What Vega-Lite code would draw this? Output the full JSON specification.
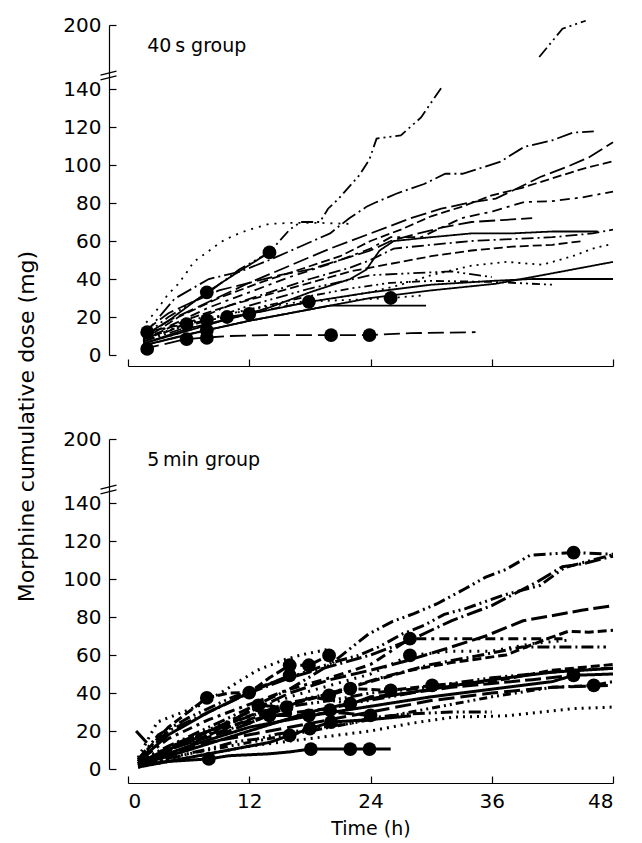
{
  "$schema": "https://vega.github.io/schema/vega-lite/v6.json",
  "background": "white",
  "padding": {"left": 15, "top": 15, "right": 0, "bottom": 0},
  "bounds": "flush",
  "spacing": 84,
  "title": {"text": "Morphine cumulative dose (mg)", "orient": "left", "anchor": "middle", "font": "DejaVu Sans", "fontSize": 22, "fontWeight": "normal", "color": "black", "offset": 24},
  "config": {
    "view": {"stroke": null},
    "axis": {"grid": false, "domainColor": "black", "tickColor": "black", "labelColor": "black", "titleColor": "black", "domainWidth": 1.2, "tickWidth": 1.2, "labelFont": "DejaVu Sans", "titleFont": "DejaVu Sans", "labelFontSize": 20, "titleFontSize": 19, "titleFontWeight": "normal", "tickSize": -7, "labelPadding": 15, "labelOverlap": false}
  },
  "datasets": {
    "lines": [
      {"g":"a","id":"a1","t":1.5,"v":10},{"g":"a","id":"a1","t":4,"v":20},{"g":"a","id":"a1","t":8,"v":33},{"g":"a","id":"a1","t":11,"v":45},{"g":"a","id":"a1","t":14,"v":54},{"g":"a","id":"a1","t":16,"v":66},{"g":"a","id":"a1","t":17.1,"v":70},{"g":"a","id":"a1","t":19,"v":70},{"g":"a","id":"a1","t":19.8,"v":77},{"g":"a","id":"a1","t":20.8,"v":82},{"g":"a","id":"a1","t":22.9,"v":94.6},{"g":"a","id":"a1","t":23.9,"v":103},{"g":"a","id":"a1","t":24.6,"v":113.9},{"g":"a","id":"a1","t":27,"v":115.6},{"g":"a","id":"a1","t":29,"v":125},{"g":"a","id":"a1","t":31,"v":141},
      {"g":"a","id":"a1x","t":40.7,"v":170},{"g":"a","id":"a1x","t":43,"v":196.5},{"g":"a","id":"a1x","t":45.3,"v":204},
      {"g":"a","id":"a2","t":1.5,"v":10},{"g":"a","id":"a2","t":4.6,"v":29.6},{"g":"a","id":"a2","t":8,"v":40},{"g":"a","id":"a2","t":11,"v":43.7},{"g":"a","id":"a2","t":14,"v":50},{"g":"a","id":"a2","t":17,"v":57},{"g":"a","id":"a2","t":20,"v":64},{"g":"a","id":"a2","t":21.9,"v":72},{"g":"a","id":"a2","t":23.6,"v":78},{"g":"a","id":"a2","t":24.6,"v":80.5},{"g":"a","id":"a2","t":26.6,"v":85},{"g":"a","id":"a2","t":29.3,"v":90},{"g":"a","id":"a2","t":31.4,"v":95.4},{"g":"a","id":"a2","t":33.1,"v":95.4},{"g":"a","id":"a2","t":36.8,"v":101.6},{"g":"a","id":"a2","t":39.2,"v":109.5},{"g":"a","id":"a2","t":42,"v":113},{"g":"a","id":"a2","t":44,"v":117},{"g":"a","id":"a2","t":46.1,"v":117.7},
      {"g":"a","id":"a3","t":1.5,"v":9},{"g":"a","id":"a3","t":4,"v":18},{"g":"a","id":"a3","t":8,"v":28},{"g":"a","id":"a3","t":12,"v":38},{"g":"a","id":"a3","t":16,"v":47},{"g":"a","id":"a3","t":20,"v":56},{"g":"a","id":"a3","t":24,"v":64},{"g":"a","id":"a3","t":28,"v":72},{"g":"a","id":"a3","t":31,"v":77},{"g":"a","id":"a3","t":34.1,"v":80.5},{"g":"a","id":"a3","t":36.4,"v":82.3},{"g":"a","id":"a3","t":38.8,"v":88.4},{"g":"a","id":"a3","t":40.8,"v":93.7},{"g":"a","id":"a3","t":43.7,"v":99.6},{"g":"a","id":"a3","t":45.6,"v":104},{"g":"a","id":"a3","t":48,"v":112},
      {"g":"a","id":"a4","t":1.5,"v":8},{"g":"a","id":"a4","t":5,"v":20},{"g":"a","id":"a4","t":9,"v":30},{"g":"a","id":"a4","t":13,"v":38},{"g":"a","id":"a4","t":17,"v":45},{"g":"a","id":"a4","t":21,"v":52},{"g":"a","id":"a4","t":24,"v":60},{"g":"a","id":"a4","t":27,"v":66},{"g":"a","id":"a4","t":30,"v":73},{"g":"a","id":"a4","t":33,"v":78},{"g":"a","id":"a4","t":36,"v":84},{"g":"a","id":"a4","t":39,"v":88},{"g":"a","id":"a4","t":42,"v":93},{"g":"a","id":"a4","t":45,"v":98},{"g":"a","id":"a4","t":48,"v":102},
      {"g":"a","id":"a5","t":1.5,"v":7},{"g":"a","id":"a5","t":4,"v":15},{"g":"a","id":"a5","t":8,"v":25},{"g":"a","id":"a5","t":12,"v":33},{"g":"a","id":"a5","t":16,"v":41},{"g":"a","id":"a5","t":20,"v":48},{"g":"a","id":"a5","t":24,"v":56},{"g":"a","id":"a5","t":26,"v":62},{"g":"a","id":"a5","t":29,"v":62},{"g":"a","id":"a5","t":31,"v":67},{"g":"a","id":"a5","t":33,"v":72},{"g":"a","id":"a5","t":36.1,"v":75.6},{"g":"a","id":"a5","t":39.2,"v":80.5},{"g":"a","id":"a5","t":42,"v":81},{"g":"a","id":"a5","t":45,"v":83},{"g":"a","id":"a5","t":48,"v":86},
      {"g":"a","id":"a6","t":1.5,"v":7},{"g":"a","id":"a6","t":6,"v":17},{"g":"a","id":"a6","t":10,"v":26},{"g":"a","id":"a6","t":14,"v":33},{"g":"a","id":"a6","t":18,"v":40},{"g":"a","id":"a6","t":22,"v":46},{"g":"a","id":"a6","t":24,"v":50},{"g":"a","id":"a6","t":26.3,"v":56},{"g":"a","id":"a6","t":30,"v":58},{"g":"a","id":"a6","t":34,"v":60},{"g":"a","id":"a6","t":38,"v":61},{"g":"a","id":"a6","t":42,"v":62},{"g":"a","id":"a6","t":46,"v":64},{"g":"a","id":"a6","t":48,"v":66},
      {"g":"a","id":"a7","t":1.5,"v":6},{"g":"a","id":"a7","t":6,"v":13},{"g":"a","id":"a7","t":12,"v":22},{"g":"a","id":"a7","t":18,"v":28},{"g":"a","id":"a7","t":24,"v":33},{"g":"a","id":"a7","t":27,"v":37},{"g":"a","id":"a7","t":30,"v":42},{"g":"a","id":"a7","t":34,"v":47},{"g":"a","id":"a7","t":37.5,"v":49},{"g":"a","id":"a7","t":41,"v":47.5},{"g":"a","id":"a7","t":44,"v":52},{"g":"a","id":"a7","t":46,"v":56},{"g":"a","id":"a7","t":48,"v":58.6},
      {"g":"a","id":"a8","t":1.5,"v":5},{"g":"a","id":"a8","t":6,"v":11},{"g":"a","id":"a8","t":12,"v":18},{"g":"a","id":"a8","t":18,"v":24},{"g":"a","id":"a8","t":24,"v":30},{"g":"a","id":"a8","t":30,"v":34},{"g":"a","id":"a8","t":36.4,"v":37.5},{"g":"a","id":"a8","t":42,"v":43},{"g":"a","id":"a8","t":48,"v":49},
      {"g":"a","id":"a9","t":1.5,"v":6},{"g":"a","id":"a9","t":6,"v":14},{"g":"a","id":"a9","t":12,"v":21.6},{"g":"a","id":"a9","t":18,"v":28},{"g":"a","id":"a9","t":24,"v":33},{"g":"a","id":"a9","t":30,"v":37},{"g":"a","id":"a9","t":36,"v":39},{"g":"a","id":"a9","t":40,"v":40},{"g":"a","id":"a9","t":48,"v":40},
      {"g":"a","id":"a10","t":1.5,"v":8},{"g":"a","id":"a10","t":6,"v":17},{"g":"a","id":"a10","t":12,"v":24},{"g":"a","id":"a10","t":18,"v":31},{"g":"a","id":"a10","t":22,"v":35},{"g":"a","id":"a10","t":26,"v":38},{"g":"a","id":"a10","t":30,"v":39},{"g":"a","id":"a10","t":36,"v":38.5},{"g":"a","id":"a10","t":42,"v":37},
      {"g":"a","id":"a11","t":1.5,"v":3.2},{"g":"a","id":"a11","t":5.8,"v":8.4},{"g":"a","id":"a11","t":10,"v":10},{"g":"a","id":"a11","t":14,"v":10.5},{"g":"a","id":"a11","t":20.1,"v":10.5},{"g":"a","id":"a11","t":23.9,"v":10.5},{"g":"a","id":"a11","t":28,"v":11.5},{"g":"a","id":"a11","t":34.4,"v":12},
      {"g":"a","id":"a12","t":1.5,"v":5},{"g":"a","id":"a12","t":7.8,"v":13},{"g":"a","id":"a12","t":12,"v":18},{"g":"a","id":"a12","t":16,"v":22},{"g":"a","id":"a12","t":20,"v":26},{"g":"a","id":"a12","t":29.5,"v":26},
      {"g":"a","id":"a13","t":1.5,"v":9},{"g":"a","id":"a13","t":7.8,"v":18.4},{"g":"a","id":"a13","t":12,"v":24},{"g":"a","id":"a13","t":17,"v":28},{"g":"a","id":"a13","t":22,"v":29},{"g":"a","id":"a13","t":26,"v":30},{"g":"a","id":"a13","t":29.3,"v":31.4},
      {"g":"a","id":"a14","t":1.5,"v":12},{"g":"a","id":"a14","t":5.8,"v":16.3},{"g":"a","id":"a14","t":9.8,"v":20},{"g":"a","id":"a14","t":12,"v":21.6},{"g":"a","id":"a14","t":15,"v":25},{"g":"a","id":"a14","t":17.9,"v":28},
      {"g":"a","id":"a15","t":1.5,"v":10},{"g":"a","id":"a15","t":4,"v":18},{"g":"a","id":"a15","t":7.8,"v":33},{"g":"a","id":"a15","t":11,"v":44},{"g":"a","id":"a15","t":14,"v":54},
      {"g":"a","id":"a16","t":1.5,"v":12},{"g":"a","id":"a16","t":4,"v":22},{"g":"a","id":"a16","t":6,"v":27},{"g":"a","id":"a16","t":9,"v":34},{"g":"a","id":"a16","t":12,"v":38},{"g":"a","id":"a16","t":15,"v":42},{"g":"a","id":"a16","t":18,"v":45},{"g":"a","id":"a16","t":21,"v":50},{"g":"a","id":"a16","t":24,"v":55},{"g":"a","id":"a16","t":26,"v":60},{"g":"a","id":"a16","t":28,"v":63},{"g":"a","id":"a16","t":31,"v":67},{"g":"a","id":"a16","t":34,"v":70},{"g":"a","id":"a16","t":37,"v":71},{"g":"a","id":"a16","t":40,"v":72},
      {"g":"a","id":"a17","t":1.5,"v":6},{"g":"a","id":"a17","t":8,"v":16},{"g":"a","id":"a17","t":14,"v":25},{"g":"a","id":"a17","t":18,"v":33},{"g":"a","id":"a17","t":22,"v":40},{"g":"a","id":"a17","t":23.6,"v":45},{"g":"a","id":"a17","t":24.9,"v":55},{"g":"a","id":"a17","t":26.3,"v":60},{"g":"a","id":"a17","t":30,"v":62},{"g":"a","id":"a17","t":34,"v":64},{"g":"a","id":"a17","t":38,"v":64},{"g":"a","id":"a17","t":42,"v":65},{"g":"a","id":"a17","t":46.5,"v":65},
      {"g":"a","id":"a18","t":1.5,"v":8},{"g":"a","id":"a18","t":6,"v":19},{"g":"a","id":"a18","t":10,"v":26},{"g":"a","id":"a18","t":14,"v":32},{"g":"a","id":"a18","t":18,"v":38},{"g":"a","id":"a18","t":22,"v":44},{"g":"a","id":"a18","t":26,"v":48},{"g":"a","id":"a18","t":30,"v":52},{"g":"a","id":"a18","t":34,"v":55},{"g":"a","id":"a18","t":38,"v":57},{"g":"a","id":"a18","t":42,"v":58},{"g":"a","id":"a18","t":45,"v":60},
      {"g":"a","id":"a19","t":1.5,"v":7},{"g":"a","id":"a19","t":6,"v":15},{"g":"a","id":"a19","t":12,"v":26},{"g":"a","id":"a19","t":18,"v":35},{"g":"a","id":"a19","t":24,"v":42},{"g":"a","id":"a19","t":28,"v":43},{"g":"a","id":"a19","t":32,"v":44},{"g":"a","id":"a19","t":36,"v":41},
      {"g":"a","id":"a20","t":1.8,"v":17},{"g":"a","id":"a20","t":2.9,"v":24},{"g":"a","id":"a20","t":3.9,"v":31.5},{"g":"a","id":"a20","t":4.9,"v":37},{"g":"a","id":"a20","t":5.7,"v":42.6},{"g":"a","id":"a20","t":6.5,"v":49},{"g":"a","id":"a20","t":7.8,"v":54},{"g":"a","id":"a20","t":9.2,"v":59.5},{"g":"a","id":"a20","t":10.5,"v":63},{"g":"a","id":"a20","t":12,"v":66},{"g":"a","id":"a20","t":14,"v":69},{"g":"a","id":"a20","t":16,"v":69.5},{"g":"a","id":"a20","t":19.2,"v":69.5},{"g":"a","id":"a20","t":22,"v":69},

      {"g":"b","id":"b1","t":1,"v":4},{"g":"b","id":"b1","t":4,"v":12},{"g":"b","id":"b1","t":8,"v":22},{"g":"b","id":"b1","t":12,"v":32},{"g":"b","id":"b1","t":16,"v":42},{"g":"b","id":"b1","t":20,"v":55},{"g":"b","id":"b1","t":23.8,"v":71},{"g":"b","id":"b1","t":26.2,"v":77.7},{"g":"b","id":"b1","t":28.3,"v":81.8},{"g":"b","id":"b1","t":30.6,"v":87},{"g":"b","id":"b1","t":33.4,"v":95},{"g":"b","id":"b1","t":35.4,"v":101},{"g":"b","id":"b1","t":37.4,"v":105},{"g":"b","id":"b1","t":39.8,"v":112.5},{"g":"b","id":"b1","t":44.1,"v":114},{"g":"b","id":"b1","t":48,"v":113},
      {"g":"b","id":"b2","t":1,"v":5},{"g":"b","id":"b2","t":3,"v":18},{"g":"b","id":"b2","t":6,"v":27},{"g":"b","id":"b2","t":10,"v":37},{"g":"b","id":"b2","t":14,"v":45},{"g":"b","id":"b2","t":17,"v":50},{"g":"b","id":"b2","t":20.4,"v":56.3},{"g":"b","id":"b2","t":22.8,"v":59.8},{"g":"b","id":"b2","t":24.8,"v":64.2},{"g":"b","id":"b2","t":27.2,"v":71.2},{"g":"b","id":"b2","t":29.3,"v":75.6},{"g":"b","id":"b2","t":31.3,"v":81.4},{"g":"b","id":"b2","t":33.4,"v":84.4},{"g":"b","id":"b2","t":37.1,"v":91.4},{"g":"b","id":"b2","t":40.8,"v":96.7},{"g":"b","id":"b2","t":43.2,"v":106},{"g":"b","id":"b2","t":46,"v":110},{"g":"b","id":"b2","t":48,"v":112.8},
      {"g":"b","id":"b2b","t":1,"v":4},{"g":"b","id":"b2b","t":4,"v":20},{"g":"b","id":"b2b","t":8,"v":30},{"g":"b","id":"b2b","t":12,"v":40},{"g":"b","id":"b2b","t":16,"v":48},{"g":"b","id":"b2b","t":20,"v":54},{"g":"b","id":"b2b","t":24,"v":60},{"g":"b","id":"b2b","t":28,"v":68},{"g":"b","id":"b2b","t":32,"v":78},{"g":"b","id":"b2b","t":36,"v":86},{"g":"b","id":"b2b","t":40.5,"v":98.5},{"g":"b","id":"b2b","t":43,"v":106.5},{"g":"b","id":"b2b","t":45,"v":108},{"g":"b","id":"b2b","t":48,"v":112},
      {"g":"b","id":"b3","t":1,"v":3},{"g":"b","id":"b3","t":4,"v":10},{"g":"b","id":"b3","t":8,"v":20},{"g":"b","id":"b3","t":12,"v":30},{"g":"b","id":"b3","t":16,"v":40},{"g":"b","id":"b3","t":20,"v":47},{"g":"b","id":"b3","t":24,"v":52},{"g":"b","id":"b3","t":27.6,"v":57},{"g":"b","id":"b3","t":31.3,"v":63},{"g":"b","id":"b3","t":35.4,"v":70},{"g":"b","id":"b3","t":39.1,"v":78},{"g":"b","id":"b3","t":44.9,"v":83.5},{"g":"b","id":"b3","t":48,"v":86},
      {"g":"b","id":"b4","t":1,"v":3},{"g":"b","id":"b4","t":5,"v":12},{"g":"b","id":"b4","t":10,"v":22},{"g":"b","id":"b4","t":15,"v":32},{"g":"b","id":"b4","t":20,"v":40},{"g":"b","id":"b4","t":24,"v":46},{"g":"b","id":"b4","t":28,"v":52},{"g":"b","id":"b4","t":32,"v":56},{"g":"b","id":"b4","t":37.4,"v":60},{"g":"b","id":"b4","t":41.5,"v":68.6},{"g":"b","id":"b4","t":43.6,"v":72.5},{"g":"b","id":"b4","t":45.6,"v":72},{"g":"b","id":"b4","t":48,"v":73},
      {"g":"b","id":"b5","t":1,"v":4},{"g":"b","id":"b5","t":4,"v":16},{"g":"b","id":"b5","t":8,"v":26},{"g":"b","id":"b5","t":12,"v":34},{"g":"b","id":"b5","t":16,"v":42},{"g":"b","id":"b5","t":20,"v":48},{"g":"b","id":"b5","t":24,"v":55},{"g":"b","id":"b5","t":27.9,"v":68.6},{"g":"b","id":"b5","t":35,"v":68.6},{"g":"b","id":"b5","t":43,"v":68.6},
      {"g":"b","id":"b6","t":1,"v":3},{"g":"b","id":"b6","t":5,"v":14},{"g":"b","id":"b6","t":10,"v":24},{"g":"b","id":"b6","t":15,"v":33},{"g":"b","id":"b6","t":20,"v":40},{"g":"b","id":"b6","t":25,"v":48},{"g":"b","id":"b6","t":30,"v":55},{"g":"b","id":"b6","t":35,"v":60},{"g":"b","id":"b6","t":39,"v":64.2},{"g":"b","id":"b6","t":47.3,"v":64.2},
      {"g":"b","id":"b7","t":1,"v":1},{"g":"b","id":"b7","t":6,"v":6},{"g":"b","id":"b7","t":12,"v":12},{"g":"b","id":"b7","t":18,"v":16},{"g":"b","id":"b7","t":24,"v":20},{"g":"b","id":"b7","t":28,"v":24},{"g":"b","id":"b7","t":32.3,"v":27.4},{"g":"b","id":"b7","t":35.7,"v":27.7},{"g":"b","id":"b7","t":37.4,"v":28},{"g":"b","id":"b7","t":44.2,"v":31.8},{"g":"b","id":"b7","t":48,"v":32.6},
      {"g":"b","id":"b8","t":1,"v":2},{"g":"b","id":"b8","t":6,"v":10},{"g":"b","id":"b8","t":12,"v":20},{"g":"b","id":"b8","t":18,"v":30},{"g":"b","id":"b8","t":24,"v":37},{"g":"b","id":"b8","t":30,"v":42},{"g":"b","id":"b8","t":36,"v":47},{"g":"b","id":"b8","t":42,"v":51},{"g":"b","id":"b8","t":48,"v":53},
      {"g":"b","id":"b9","t":1,"v":2},{"g":"b","id":"b9","t":6,"v":12},{"g":"b","id":"b9","t":12,"v":22},{"g":"b","id":"b9","t":18,"v":28},{"g":"b","id":"b9","t":24,"v":33},{"g":"b","id":"b9","t":30,"v":38},{"g":"b","id":"b9","t":36,"v":42},{"g":"b","id":"b9","t":42,"v":46},{"g":"b","id":"b9","t":44.1,"v":49.3},{"g":"b","id":"b9","t":48,"v":50},
      {"g":"b","id":"b10","t":1,"v":1},{"g":"b","id":"b10","t":6,"v":8},{"g":"b","id":"b10","t":12,"v":14},{"g":"b","id":"b10","t":18,"v":20},{"g":"b","id":"b10","t":24,"v":26},{"g":"b","id":"b10","t":30,"v":32},{"g":"b","id":"b10","t":36,"v":38},{"g":"b","id":"b10","t":42,"v":43},{"g":"b","id":"b10","t":46.1,"v":44},{"g":"b","id":"b10","t":48,"v":46},
      {"g":"b","id":"b11","t":1,"v":2},{"g":"b","id":"b11","t":8,"v":14},{"g":"b","id":"b11","t":16,"v":22},{"g":"b","id":"b11","t":24,"v":30},{"g":"b","id":"b11","t":30,"v":36},{"g":"b","id":"b11","t":36,"v":40},{"g":"b","id":"b11","t":42,"v":43},{"g":"b","id":"b11","t":48,"v":44},
      {"g":"b","id":"b12","t":1,"v":2},{"g":"b","id":"b12","t":4,"v":4},{"g":"b","id":"b12","t":8,"v":5.3},{"g":"b","id":"b12","t":10,"v":7},{"g":"b","id":"b12","t":14,"v":8},{"g":"b","id":"b12","t":16,"v":9},{"g":"b","id":"b12","t":18.1,"v":10.5},{"g":"b","id":"b12","t":22,"v":10.5},{"g":"b","id":"b12","t":23.9,"v":10.5},{"g":"b","id":"b12","t":26,"v":10.5},
      {"g":"b","id":"b13","t":1,"v":6},{"g":"b","id":"b13","t":2.9,"v":24.7},{"g":"b","id":"b13","t":5,"v":29},{"g":"b","id":"b13","t":7.2,"v":33.7},{"g":"b","id":"b13","t":8.8,"v":38.9},{"g":"b","id":"b13","t":12.8,"v":52},{"g":"b","id":"b13","t":15.4,"v":57.4},{"g":"b","id":"b13","t":17.1,"v":60},{"g":"b","id":"b13","t":20.1,"v":63.3},
      {"g":"b","id":"b14","t":1,"v":5},{"g":"b","id":"b14","t":4,"v":22},{"g":"b","id":"b14","t":7.8,"v":37.4},{"g":"b","id":"b14","t":10,"v":40},{"g":"b","id":"b14","t":12,"v":40.2},{"g":"b","id":"b14","t":14,"v":48},{"g":"b","id":"b14","t":16,"v":54.6},{"g":"b","id":"b14","t":17.9,"v":54.6},{"g":"b","id":"b14","t":19.9,"v":59.8},
      {"g":"b","id":"b15","t":1,"v":4},{"g":"b","id":"b15","t":4,"v":18},{"g":"b","id":"b15","t":8,"v":30},{"g":"b","id":"b15","t":12,"v":40.2},{"g":"b","id":"b15","t":16,"v":49.3},
      {"g":"b","id":"b16","t":1,"v":2},{"g":"b","id":"b16","t":5,"v":12},{"g":"b","id":"b16","t":10,"v":20},{"g":"b","id":"b16","t":14,"v":28.2},{"g":"b","id":"b16","t":17.9,"v":28.2},{"g":"b","id":"b16","t":20,"v":30},{"g":"b","id":"b16","t":24,"v":28.2},
      {"g":"b","id":"b17","t":1,"v":1},{"g":"b","id":"b17","t":6,"v":6},{"g":"b","id":"b17","t":10,"v":10},{"g":"b","id":"b17","t":14,"v":14},{"g":"b","id":"b17","t":16,"v":17.7},{"g":"b","id":"b17","t":18,"v":21.2},{"g":"b","id":"b17","t":20.1,"v":24.7},{"g":"b","id":"b17","t":24,"v":26},{"g":"b","id":"b17","t":28,"v":28},
      {"g":"b","id":"b18","t":1,"v":3},{"g":"b","id":"b18","t":6,"v":16},{"g":"b","id":"b18","t":12,"v":28},{"g":"b","id":"b18","t":16,"v":35},{"g":"b","id":"b18","t":19.9,"v":38.8},{"g":"b","id":"b18","t":22,"v":42.3},{"g":"b","id":"b18","t":26,"v":41.4},{"g":"b","id":"b18","t":30.1,"v":44},{"g":"b","id":"b18","t":36,"v":46},{"g":"b","id":"b18","t":42,"v":52},{"g":"b","id":"b18","t":48,"v":55},
      {"g":"b","id":"b19","t":1,"v":2},{"g":"b","id":"b19","t":6,"v":12},{"g":"b","id":"b19","t":12.9,"v":33.5},{"g":"b","id":"b19","t":15.7,"v":32.6},{"g":"b","id":"b19","t":18,"v":38},{"g":"b","id":"b19","t":22,"v":34.4},{"g":"b","id":"b19","t":26,"v":38},{"g":"b","id":"b19","t":28,"v":40},
      {"g":"b","id":"b20","t":1,"v":4},{"g":"b","id":"b20","t":6,"v":16},{"g":"b","id":"b20","t":12,"v":30},{"g":"b","id":"b20","t":16,"v":38},{"g":"b","id":"b20","t":20,"v":44},{"g":"b","id":"b20","t":24,"v":50},{"g":"b","id":"b20","t":27.9,"v":59.8},{"g":"b","id":"b20","t":32,"v":62},{"g":"b","id":"b20","t":36,"v":62},{"g":"b","id":"b20","t":40,"v":66},{"g":"b","id":"b20","t":44,"v":68},
      {"g":"b","id":"b21","t":1,"v":2},{"g":"b","id":"b21","t":7.9,"v":10.5},{"g":"b","id":"b21","t":10.5,"v":14.2},{"g":"b","id":"b21","t":12.8,"v":15.8},{"g":"b","id":"b21","t":14.8,"v":18.4},{"g":"b","id":"b21","t":18,"v":21},{"g":"b","id":"b21","t":22,"v":24},{"g":"b","id":"b21","t":24,"v":27},{"g":"b","id":"b21","t":28,"v":29},{"g":"b","id":"b21","t":32,"v":30},{"g":"b","id":"b21","t":36,"v":30},
      {"g":"b","id":"b22","t":1,"v":3},{"g":"b","id":"b22","t":6,"v":15},{"g":"b","id":"b22","t":12,"v":24},{"g":"b","id":"b22","t":16,"v":33},{"g":"b","id":"b22","t":20,"v":36},{"g":"b","id":"b22","t":24,"v":40},{"g":"b","id":"b22","t":28,"v":42},{"g":"b","id":"b22","t":32,"v":45},{"g":"b","id":"b22","t":36,"v":48},{"g":"b","id":"b22","t":40,"v":50},{"g":"b","id":"b22","t":44,"v":52},{"g":"b","id":"b22","t":48,"v":53},
      {"g":"b","id":"b23","t":0.8,"v":20},{"g":"b","id":"b23","t":2,"v":13},
      {"g":"b","id":"b24","t":1,"v":3},{"g":"b","id":"b24","t":8,"v":20},{"g":"b","id":"b24","t":14,"v":28},{"g":"b","id":"b24","t":20,"v":32},{"g":"b","id":"b24","t":22,"v":34},{"g":"b","id":"b24","t":24,"v":38},{"g":"b","id":"b24","t":28,"v":40},{"g":"b","id":"b24","t":32,"v":43},{"g":"b","id":"b24","t":36,"v":45},{"g":"b","id":"b24","t":40,"v":47},{"g":"b","id":"b24","t":44.1,"v":49.3}
    ],
    "dots": [
      {"g":"a","t":1.9,"v":12},{"g":"a","t":1.9,"v":3.2},{"g":"a","t":5.8,"v":16.3},{"g":"a","t":5.8,"v":8.4},{"g":"a","t":7.8,"v":33},{"g":"a","t":7.8,"v":18.4},{"g":"a","t":7.8,"v":13},{"g":"a","t":7.8,"v":9},{"g":"a","t":9.8,"v":20},{"g":"a","t":12,"v":21.6},{"g":"a","t":14,"v":54},{"g":"a","t":17.9,"v":28},{"g":"a","t":20.1,"v":10.5},{"g":"a","t":23.9,"v":10.5},{"g":"a","t":26,"v":30},
      {"g":"b","t":7.8,"v":37.4},{"g":"b","t":8,"v":5.3},{"g":"b","t":12,"v":40.2},{"g":"b","t":12.9,"v":33.5},{"g":"b","t":14,"v":28.2},{"g":"b","t":16,"v":54.6},{"g":"b","t":16,"v":49.3},{"g":"b","t":15.7,"v":32.6},{"g":"b","t":16,"v":17.7},{"g":"b","t":17.9,"v":54.6},{"g":"b","t":17.9,"v":28.2},{"g":"b","t":18,"v":21.2},{"g":"b","t":18.1,"v":10.5},{"g":"b","t":19.9,"v":59.8},{"g":"b","t":19.9,"v":38.8},{"g":"b","t":20.1,"v":24.7},{"g":"b","t":20,"v":31},{"g":"b","t":22,"v":42.3},{"g":"b","t":22,"v":34.4},{"g":"b","t":22,"v":10.5},{"g":"b","t":23.9,"v":10.5},{"g":"b","t":24,"v":28.2},{"g":"b","t":26,"v":41.4},{"g":"b","t":27.9,"v":68.6},{"g":"b","t":27.9,"v":59.8},{"g":"b","t":30.1,"v":44},{"g":"b","t":44.1,"v":113.9},{"g":"b","t":44.1,"v":49.3},{"g":"b","t":46.1,"v":44}
    ],
    "notes": [
      {"g":"a","label":"40\u2009s group","t":1.9,"v":180},
      {"g":"b","label":"5\u2009min group","t":1.9,"v":180}
    ],
    "breaks": [
      {"g":"a","t":-1.93,"v":153},
      {"g":"b","t":-1.93,"v":153}
    ]
  },
  "vconcat": [
    {
      "width": 485,
      "height": 330,
      "encoding": {
        "x": {"field": "t", "type": "quantitative", "scale": {"domain": [0, 48], "nice": false, "zero": false}, "axis": {"values": [0, 12, 24, 36, 48], "labels": false, "title": null, "offset": 11}},
        "y": {"field": "v", "type": "quantitative", "scale": {"domain": [0, 140, 200], "range": [330, 64, 0], "nice": false, "zero": false}, "axis": {"values": [0, 20, 40, 60, 80, 100, 120, 140, 200], "title": null, "offset": 19}}
      },
      "layer": [
        {
          "data": {"name": "lines"},
          "transform": [{"filter": "datum.g == 'a'"}],
          "mark": {"type": "line", "color": "black", "strokeWidth": 1.8, "clip": false},
          "encoding": {
            "detail": {"field": "id", "type": "nominal"},
            "strokeDash": {"field": "id", "type": "nominal", "legend": null,
              "scale": {"domain": ["a1","a1x","a2","a3","a4","a5","a6","a7","a8","a9","a10","a11","a12","a13","a14","a15","a16","a17","a18","a19","a20"],
                        "range": [[12,4,2,4,2,4],[12,4,2,4,2,4],[16,4,2,4],[16,5],[9,4],[3,5,10,5],[12,4,2,4],[2,5],[1,0],[1,0],[2,4,2,4,8,4],[16,6],[1,0],[2,5],[9,4],[1,0],[16,5],[1,0],[9,4],[12,4,2,4,2,4],[2,6]]}}
          }
        },
        {
          "data": {"name": "dots"},
          "transform": [{"filter": "datum.g == 'a'"}],
          "mark": {"type": "point", "filled": true, "color": "black", "opacity": 1, "size": 190}
        },
        {
          "data": {"name": "notes"},
          "transform": [{"filter": "datum.g == 'a'"}],
          "mark": {"type": "text", "align": "left", "baseline": "middle", "font": "DejaVu Sans", "fontSize": 19, "color": "black"},
          "encoding": {"text": {"field": "label"}}
        },
        {
          "data": {"name": "breaks"},
          "transform": [{"filter": "datum.g == 'a'"}],
          "mark": {"type": "point", "shape": "M-1,0L1,-0.5M-1,0.6L1,0.1", "filled": false, "stroke": "black", "strokeWidth": 1.2, "size": 256, "opacity": 1, "clip": false}
        }
      ]
    },
    {
      "width": 485,
      "height": 330,
      "encoding": {
        "x": {"field": "t", "type": "quantitative", "scale": {"domain": [0, 48], "nice": false, "zero": false}, "axis": {"values": [0, 12, 24, 36, 48], "title": "Time (h)", "offset": 14, "titlePadding": 8}},
        "y": {"field": "v", "type": "quantitative", "scale": {"domain": [0, 140, 200], "range": [330, 64, 0], "nice": false, "zero": false}, "axis": {"values": [0, 20, 40, 60, 80, 100, 120, 140, 200], "title": null, "offset": 19}}
      },
      "layer": [
        {
          "data": {"name": "lines"},
          "transform": [{"filter": "datum.g == 'b'"}],
          "mark": {"type": "line", "color": "black", "strokeWidth": 3, "clip": false},
          "encoding": {
            "detail": {"field": "id", "type": "nominal"},
            "strokeDash": {"field": "id", "type": "nominal", "legend": null,
              "scale": {"domain": ["b1","b2","b2b","b3","b4","b5","b6","b7","b8","b9","b10","b11","b12","b13","b14","b15","b16","b17","b18","b19","b20","b21","b22","b23","b24"],
                        "range": [[16,6,3,6],[1,0],[1,0],[20,6],[16,6,3,6],[1,0],[1,0],[16,6,3,6],[12,5],[1,0],[1,0],[1,0],[12,5],[1,0],[1,0],[12,5],[1,0],[12,5],[16,6,3,6],[1,0],[12,5],[1,0],[3,7],[1,0],[1,0]]}}
          }
        },
        {
          "data": {"name": "dots"},
          "transform": [{"filter": "datum.g == 'b'"}],
          "mark": {"type": "point", "filled": true, "color": "black", "opacity": 1, "size": 190}
        },
        {
          "data": {"name": "notes"},
          "transform": [{"filter": "datum.g == 'b'"}],
          "mark": {"type": "text", "align": "left", "baseline": "middle", "font": "DejaVu Sans", "fontSize": 19, "color": "black"},
          "encoding": {"text": {"field": "label"}}
        },
        {
          "data": {"name": "breaks"},
          "transform": [{"filter": "datum.g == 'b'"}],
          "mark": {"type": "point", "shape": "M-1,0L1,-0.5M-1,0.6L1,0.1", "filled": false, "stroke": "black", "strokeWidth": 1.2, "size": 256, "opacity": 1, "clip": false}
        }
      ]
    }
  ]
}
